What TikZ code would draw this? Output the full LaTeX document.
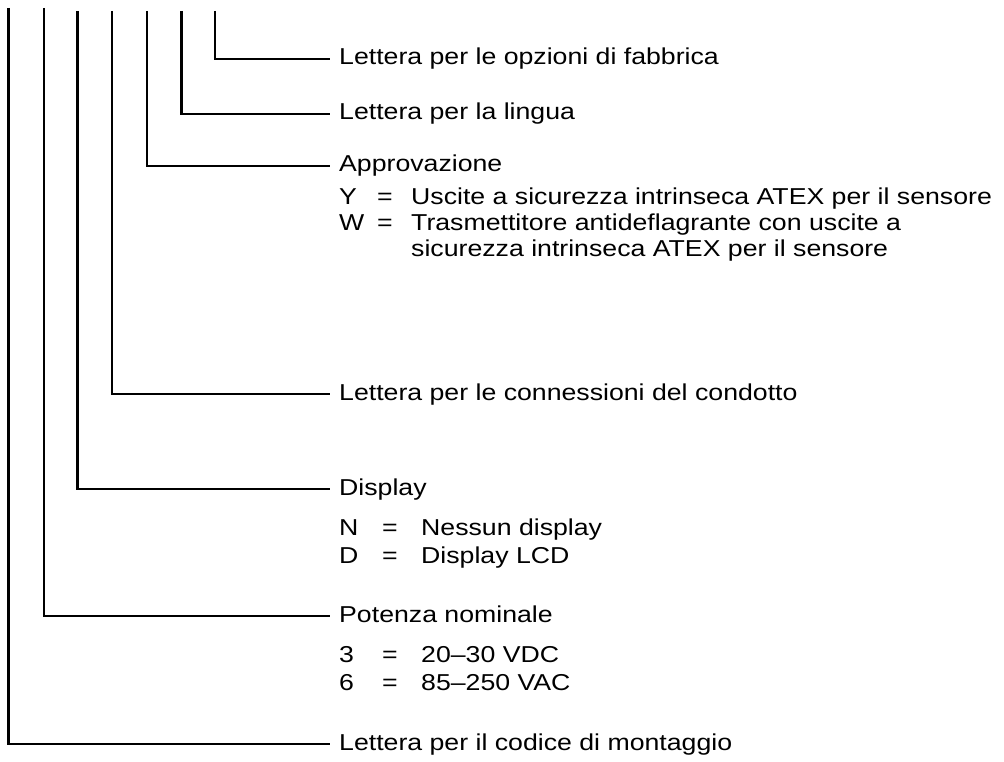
\documentclass[tikz,border=0pt]{standalone}
\usepackage{fontspec}
\setmainfont{Liberation Sans}[FakeStretch=1.16]

\begin{document}
\begin{tikzpicture}[x=1pt,y=-1pt,
  lead/.style={line width=2.2pt, shorten >=9pt},
  head/.style={anchor=west, inner sep=0pt, text height=16pt, text depth=4pt,
    font=\fontsize{23}{27}\selectfont},
  opt/.style={anchor=base west, inner sep=0pt, font=\fontsize{23}{27}\selectfont}]
\useasboundingbox (0,0) rectangle (1004,762);
% tops of the code positions
\coordinate (t1) at (8.5,8);
\coordinate (t2) at (44,8);
\coordinate (t3) at (77.5,11);
\coordinate (t4) at (112,11);
\coordinate (t5) at (147,11);
\coordinate (t6) at (181.5,11);
\coordinate (t7) at (215,11);
% headings
\node[head] (fab) at (339,59) {Lettera per le opzioni di fabbrica};
\node[head] (lin) at (339,114) {Lettera per la lingua};
\node[head] (app) at (339,166) {Approvazione};
\node[head] (con) at (339,394) {Lettera per le connessioni del condotto};
\node[head] (dis) at (339,489) {Display};
\node[head] (pot) at (339,616) {Potenza nominale};
\node[head] (mon) at (339,744) {Lettera per il codice di montaggio};
% options
\node[opt] (appY) at (339,205) {Y};
\node[opt] at (377,205) {=};
\node[opt] at (411,205) {Uscite a sicurezza intrinseca ATEX per il sensore};
\node[opt] (appW) at (339,231) {W};
\node[opt] at (377,231) {=};
\node[opt] at (411,231) {Trasmettitore antideflagrante con uscite a};
\node[opt] at (411,257) {sicurezza intrinseca ATEX per il sensore};
\node[opt] (disN) at (339,535) {N};
\node[opt] at (382,535) {=};
\node[opt] at (421,535) {Nessun display};
\node[opt] (disD) at (339,563) {D};
\node[opt] at (382,563) {=};
\node[opt] at (421,563) {Display LCD};
\node[opt] (pot3) at (339,662) {3};
\node[opt] at (382,662) {=};
\node[opt] at (421,662) {20--30 VDC};
\node[opt] (pot6) at (339,690) {6};
\node[opt] at (382,690) {=};
\node[opt] at (421,690) {85--250 VAC};
% leader lines
\draw[lead] (t7) |- (fab.west);
\draw[lead] (t6) |- (lin.west);
\draw[lead] (t5) |- (app.west);
\draw[lead] (t4) |- (con.west);
\draw[lead] (t3) |- (dis.west);
\draw[lead] (t2) |- (pot.west);
\draw[lead] (t1) |- (mon.west);
\end{tikzpicture}
\end{document}
